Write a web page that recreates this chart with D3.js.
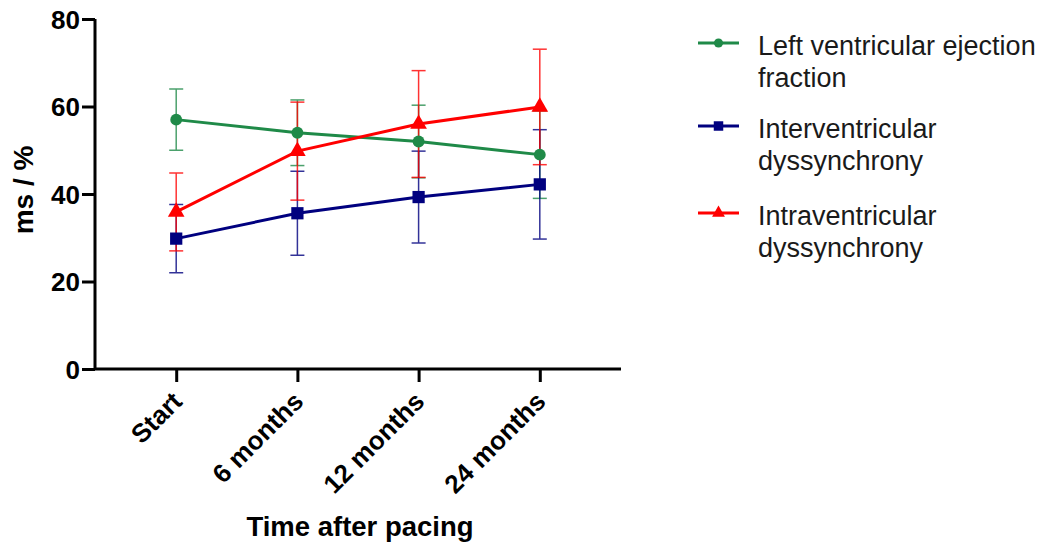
<!DOCTYPE html>
<html>
<head>
<meta charset="utf-8">
<script src="https://cdn.jsdelivr.net/npm/d3@7"></script>
<style>
  body { margin: 0; background: #fff; }
  text { font-family: "Liberation Sans", Arial, sans-serif; }
</style>
</head>
<body>
<svg id="chart" width="1050" height="546"></svg>
<script>
// --- data -------------------------------------------
const timepoints = ["Start", "6 months", "12 months", "24 months"];
const yTicks = [0, 20, 40, 60, 80];

const lvefMean = [57, 54, 52, 49];
const lvefErr  = [7, 7.5, 8.3, 10];
const interMean = [29.8, 35.6, 39.3, 42.2];
const interErr  = [7.8, 9.6, 10.5, 12.5];
const intraMean = [35.9, 49.8, 56, 59.9];
const intraErr  = [8.9, 11.2, 12.2, 13.2];

const seriesNames = [
  ["Left ventricular ejection", "fraction"],
  ["Interventricular", "dyssynchrony"],
  ["Intraventricular", "dyssynchrony"]
];

// one row per series, built from the arrays above
const series = [
  {name: seriesNames[0], mean: lvefMean, err: lvefErr, color: "#1f8a48", shape: d3.symbolCircle, size: 110},
  {name: seriesNames[1], mean: interMean, err: interErr, color: "#00007f", shape: d3.symbolSquare, size: 150},
  {name: seriesNames[2], mean: intraMean, err: intraErr, color: "#ff0000", shape: d3.symbolTriangle, size: 120}
];

const svg = d3.select("#chart");

const x = d3.scalePoint()
  .domain(timepoints)
  .range([95, 621])
  .padding(0.67);

const y = d3.scaleLinear()
  .domain([0, 80])
  .range([369, 19]);

// --- axes ---------------------
const yAxis = svg.append("g")
  .attr("transform", "translate(95,0)")
  .call(d3.axisLeft(y).tickValues(yTicks).tickSize(13).tickPadding(2));

const xAxis = svg.append("g")
  .attr("transform", "translate(0,369)")
  .call(d3.axisBottom(x).tickSize(13).tickSizeOuter(0));

[yAxis, xAxis].forEach(a => {
  a.select(".domain").attr("stroke", "#000").attr("stroke-width", 3);
  a.selectAll(".tick line").attr("stroke", "#000").attr("stroke-width", 3);
  a.selectAll("text")
    .attr("fill", "#000")
    .style("font-size", "26px")
    .style("font-weight", "bold");
});
yAxis.select(".domain").attr("d", "M0," + y(0) + "V" + y(80));
xAxis.select(".domain").attr("d", "M95,0H621");

yAxis.selectAll("text").attr("dy", "0.36em");

// rotated labels: baseline end sits just right of and below each tick
xAxis.selectAll("text")
  .style("text-anchor", "end")
  .attr("x", 0)
  .attr("y", 0)
  .attr("dy", 0)
  .attr("transform", "translate(7,34) rotate(-45)");

// axis titles
svg.append("text")
  .attr("transform", "translate(33,190) rotate(-90)")
  .attr("text-anchor", "middle")
  .style("font-size", "28px")
  .style("font-weight", "bold")
  .text("ms / %");

svg.append("text")
  .attr("x", 360)
  .attr("y", 536)
  .attr("text-anchor", "middle")
  .style("font-size", "27.5px")
  .style("font-weight", "bold")
  .text("Time after pacing");

// --- series ---------------------
const plot = svg.append("g");
const capHalf = 7;

series.forEach(s => {
  const pts = timepoints.map((t, i) => ({t: t, m: s.mean[i], e: s.err[i]}));

  // error bars
  const eb = plot.append("g").attr("stroke", s.color).attr("stroke-width", 1.5).attr("opacity", 0.8);
  eb.selectAll(".v").data(pts).enter().append("line")
    .attr("x1", d => x(d.t)).attr("x2", d => x(d.t))
    .attr("y1", d => y(d.m - d.e)).attr("y2", d => y(d.m + d.e));
  eb.selectAll(".top").data(pts).enter().append("line")
    .attr("x1", d => x(d.t) - capHalf).attr("x2", d => x(d.t) + capHalf)
    .attr("y1", d => y(d.m + d.e)).attr("y2", d => y(d.m + d.e));
  eb.selectAll(".bot").data(pts).enter().append("line")
    .attr("x1", d => x(d.t) - capHalf).attr("x2", d => x(d.t) + capHalf)
    .attr("y1", d => y(d.m - d.e)).attr("y2", d => y(d.m - d.e));
});

series.forEach(s => {
  const pts = timepoints.map((t, i) => ({t: t, m: s.mean[i]}));
  plot.append("path")
    .datum(pts)
    .attr("fill", "none")
    .attr("stroke", s.color)
    .attr("stroke-width", 3)
    .attr("d", d3.line().x(d => x(d.t)).y(d => y(d.m)));

  plot.selectAll(null).data(pts).enter().append("path")
    .attr("d", d3.symbol().type(s.shape).size(s.size))
    .attr("fill", s.color)
    .attr("transform", d => "translate(" + x(d.t) + "," + y(d.m) + ")");
});

// --- legend ---------------------
const legendY = [43, 126, 213];
const legend = svg.append("g");
series.forEach((s, i) => {
  const g = legend.append("g").attr("transform", "translate(0," + legendY[i] + ")");
  g.append("line")
    .attr("x1", 698).attr("x2", 739)
    .attr("stroke", s.color).attr("stroke-width", 3);
  g.append("path")
    .attr("d", d3.symbol().type(s.shape).size(s.size * 0.6))
    .attr("fill", s.color)
    .attr("transform", "translate(718.5,0)");
  g.selectAll("text").data(s.name).enter().append("text")
    .attr("x", 758)
    .attr("y", (d, j) => 12 + j * 32)
    .style("font-size", "27px")
    .attr("fill", "#1a1a1a")
    .text(d => d);
});
</script>
</body>
</html>
